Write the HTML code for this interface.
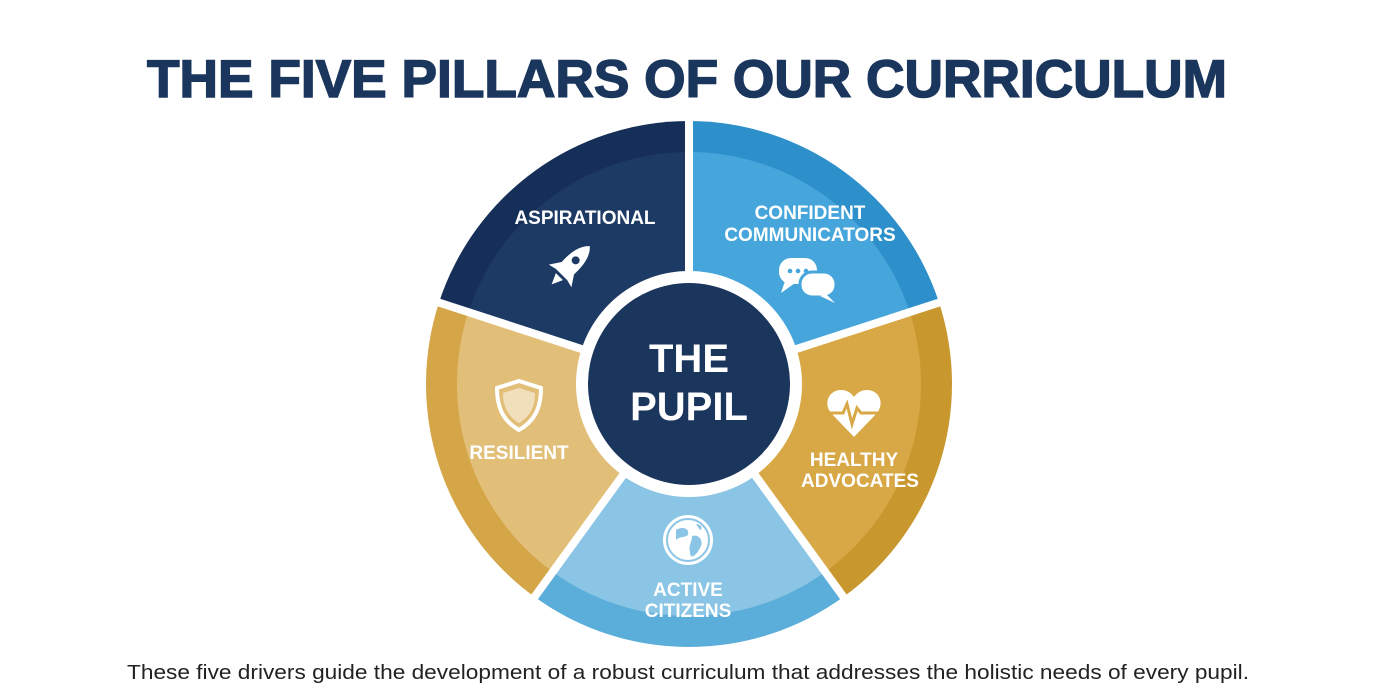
<!DOCTYPE html>
<html><head><meta charset="utf-8"><style>
html,body{margin:0;padding:0;background:#fff;}
svg{display:block;}
</style></head><body>
<svg width="1376" height="695" viewBox="0 0 1376 695" xmlns="http://www.w3.org/2000/svg" font-family="Liberation Sans, sans-serif">
<rect width="1376" height="695" fill="#fff"/>
<text x="687" y="97" text-anchor="middle" font-size="53" font-weight="bold" fill="#1b365d" textLength="1080" lengthAdjust="spacingAndGlyphs" stroke="#1b365d" stroke-width="1.5">THE FIVE PILLARS OF OUR CURRICULUM</text>

<!-- outer wedges -->
<path d="M689,384 L438.9,302.7 A263,263 0 0 1 689,121 Z" fill="#162f58"/>
<path d="M689,384 L689,121 A263,263 0 0 1 939.1,302.7 Z" fill="#2e90cb"/>
<path d="M689,384 L939.1,302.7 A263,263 0 0 1 843.6,596.8 Z" fill="#c8972e"/>
<path d="M689,384 L843.6,596.8 A263,263 0 0 1 534.4,596.8 Z" fill="#5badda"/>
<path d="M689,384 L534.4,596.8 A263,263 0 0 1 438.9,302.7 Z" fill="#d5a648"/>
<!-- inner wedges -->
<path d="M689,384 L468.3,312.3 A232,232 0 0 1 689,152 Z" fill="#1d3a64"/>
<path d="M689,384 L689,152 A232,232 0 0 1 909.7,312.3 Z" fill="#46a6dc"/>
<path d="M689,384 L909.7,312.3 A232,232 0 0 1 825.4,571.7 Z" fill="#d8a846"/>
<path d="M689,384 L825.4,571.7 A232,232 0 0 1 552.6,571.7 Z" fill="#8bc5e5"/>
<path d="M689,384 L552.6,571.7 A232,232 0 0 1 468.3,312.3 Z" fill="#e2bf78"/>
<!-- gaps -->
<g stroke="#fff" stroke-width="8">
<line x1="689" y1="384" x2="689" y2="110"/>
<line x1="689" y1="384" x2="950" y2="299"/>
<line x1="689" y1="384" x2="850" y2="606"/>
<line x1="689" y1="384" x2="528" y2="606"/>
<line x1="689" y1="384" x2="428" y2="299"/>
</g>
<circle cx="689" cy="384" r="113" fill="#fff"/>
<circle cx="689" cy="384" r="101" fill="#1b365d"/>
<g fill="#fff" font-weight="bold" text-anchor="middle">
<text x="689" y="372" font-size="40">THE</text>
<text x="689" y="420" font-size="40">PUPIL</text>
<text x="585" y="224" font-size="19">ASPIRATIONAL</text>
<text x="810" y="219" font-size="19">CONFIDENT</text>
<text x="810" y="241" font-size="19">COMMUNICATORS</text>
<text x="519" y="459" font-size="19">RESILIENT</text>
<text x="854" y="466" font-size="19">HEALTHY</text>
<text x="860" y="487" font-size="19">ADVOCATES</text>
<text x="688" y="596" font-size="19">ACTIVE</text>
<text x="688" y="617" font-size="19">CITIZENS</text>
</g>
<!-- rocket -->
<g transform="translate(570,266) rotate(45)" fill="#fff">
<path d="M0,-28 C9,-20 10,-5 8,12 L-8,12 C-10,-5 -9,-20 0,-28 Z"/>
<circle cx="0" cy="-8" r="4" fill="#1d3a64"/>
<path d="M-8,2 L-16,14 L-8,12 Z M8,2 L16,14 L8,12 Z"/>
<path d="M-5,15 L5,15 L0,26 Z"/>
</g>
<!-- chat -->
<g fill="#fff">
<rect x="779" y="258" width="38" height="26" rx="12"/>
<path d="M785,281 L781,293 L795,283 Z"/>
<rect x="800" y="272" width="36" height="25" rx="12" stroke="#46a6dc" stroke-width="3"/>
<path d="M826,294 L835,303 L820,296 Z"/>
<circle cx="790" cy="271" r="2.3" fill="#46a6dc"/><circle cx="798" cy="271" r="2.3" fill="#46a6dc"/><circle cx="806" cy="271" r="2.3" fill="#46a6dc"/>
</g>
<!-- shield -->
<path d="M519,381 L541,388 C541,410 533,422 519,430 C505,422 497,410 497,388 Z" fill="none" stroke="#fff" stroke-width="4"/>
<path d="M519,388 L535,393 C535,408 529,417 519,423 C509,417 503,408 503,393 Z" fill="#fff" opacity="0.5"/>
<!-- heart -->
<path d="M854,437 L831,413 C823,403 829,390 841,390 C847,390 851,393 854,397 C857,393 861,390 867,390 C879,390 885,403 877,413 Z" fill="#fff"/>
<polyline points="826,413 843,413 847,404 852,424 857,408 861,413 882,413" fill="none" stroke="#d8a846" stroke-width="3"/>
<!-- globe -->
<circle cx="688" cy="540" r="25" fill="#fff"/>
<circle cx="688" cy="540" r="21" fill="none" stroke="#8bc5e5" stroke-width="2"/>
<path d="M676,530 C682,526 690,528 688,535 C684,538 680,536 676,540 Z M692,536 C700,534 704,542 700,548 C696,556 690,560 690,552 C688,546 692,542 692,536 Z M696,524 C700,524 704,528 700,530 Z" fill="#8bc5e5"/>
<text x="688" y="679" text-anchor="middle" font-size="20.5" fill="#222" textLength="1122" lengthAdjust="spacingAndGlyphs">These five drivers guide the development of a robust curriculum that addresses the holistic needs of every pupil.</text>
</svg>
</body></html>
